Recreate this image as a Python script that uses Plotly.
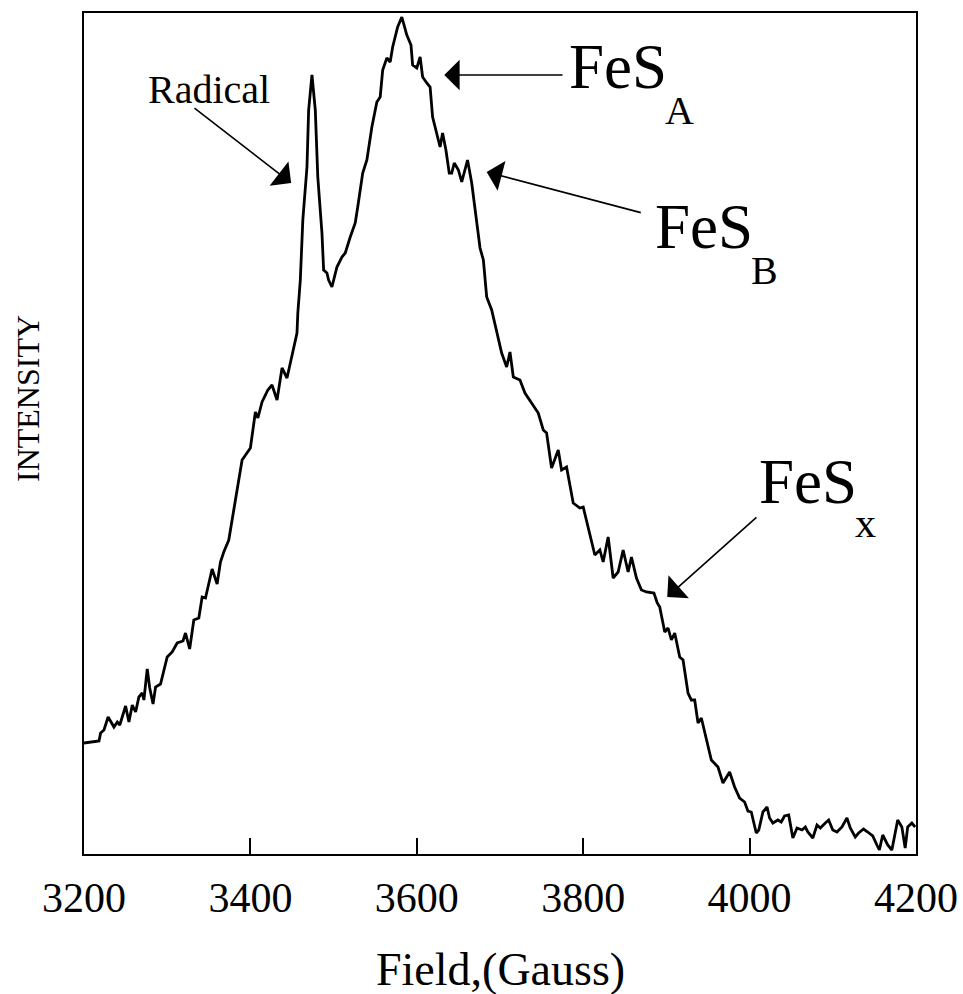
import plotly.graph_objects as go

# EPR spectrum: magnetic field (Gauss) vs. intensity (arbitrary units)
field = [
    3200, 3218, 3220, 3224, 3229, 3236, 3240, 3243, 3250, 3254, 3258, 3262, 3266, 3270,
    3272, 3276, 3279, 3283, 3286, 3292, 3300, 3306, 3312, 3319, 3322, 3327, 3332, 3338,
    3342, 3346, 3354, 3360, 3364, 3368, 3374, 3381, 3390, 3400, 3406, 3409, 3414, 3421,
    3426, 3432, 3438, 3444, 3451, 3456, 3457, 3460, 3463, 3468, 3470, 3474, 3478, 3481,
    3486, 3488, 3492, 3494, 3498, 3502, 3504, 3510, 3514, 3520, 3526, 3529, 3535, 3540,
    3546, 3552, 3556, 3559, 3564, 3568, 3571, 3577, 3582, 3588, 3593, 3595, 3600, 3604,
    3607, 3612, 3616, 3619, 3624, 3628, 3631, 3635, 3639, 3642, 3645, 3650, 3654, 3658,
    3661, 3666, 3670, 3676, 3680, 3684, 3690, 3696, 3702, 3708, 3712, 3716, 3724, 3730,
    3738, 3746, 3752, 3756, 3762, 3770, 3774, 3780, 3788, 3796, 3800, 3806, 3814, 3820,
    3824, 3830, 3836, 3842, 3848, 3854, 3858, 3864, 3870, 3876, 3885, 3889, 3892, 3898,
    3902, 3906, 3910, 3916, 3920, 3926, 3930, 3934, 3938, 3942, 3948, 3954, 3962, 3968,
    3976, 3982, 3988, 3994, 3998, 4002, 4008, 4011, 4016, 4021, 4024, 4028, 4034, 4038,
    4042, 4047, 4052, 4057, 4063, 4067, 4070, 4076, 4081, 4085, 4091, 4095, 4100, 4105,
    4111, 4117, 4121, 4127, 4131, 4137, 4142, 4148, 4153, 4156, 4160, 4166, 4171, 4175,
    4178, 4183, 4187, 4190, 4195, 4199,
]
intensity = [
    111, 113, 121, 124, 137, 127, 132, 129, 148, 132, 149, 142, 157, 161,
    154, 185, 166, 150, 167, 170, 197, 202, 211, 213, 221, 205, 234, 236,
    257, 256, 285, 270, 292, 302, 314, 351, 394, 406, 442, 436, 452, 464,
    469, 454, 486, 476, 501, 521, 541, 574, 634, 687, 744, 779, 744, 677,
    621, 584, 581, 574, 567, 581, 587, 597, 601, 617, 631, 647, 681, 694,
    727, 752, 757, 784, 796, 792, 807, 827, 837, 819, 809, 789, 786, 797,
    777, 771, 767, 737, 721, 707, 721, 704, 681, 681, 691, 684, 672, 684,
    694, 671, 644, 606, 594, 557, 544, 521, 501, 487, 502, 477, 474, 461,
    451, 441, 424, 421, 386, 404, 384, 387, 351, 346, 347, 327, 299, 304,
    292, 317, 276, 282, 304, 282, 297, 276, 264, 262, 261, 251, 247, 222,
    226, 214, 221, 197, 194, 161, 154, 154, 131, 136, 114, 94, 87, 71,
    82, 67, 56, 52, 43, 42, 21, 24, 42, 47, 36, 31, 34, 32,
    38, 39, 16, 26, 24, 27, 22, 16, 29, 26, 31, 34, 24, 22,
    27, 36, 26, 17, 21, 25, 22, 18, 9, 4, 19, 9, 4, 22,
    34, 27, 6, 27, 31, 27,
]

x_ticks = [3200, 3400, 3600, 3800, 4000, 4200]

SERIF = "Liberation Serif, Times New Roman, serif"

fig = go.Figure()
fig.add_trace(go.Scatter(
    x=field, y=intensity, mode="lines",
    line=dict(color="black", width=2.8),
    showlegend=False, hoverinfo="skip",
))

ARROW = dict(showarrow=True, arrowhead=1, arrowsize=3.2, arrowwidth=1.6,
             arrowcolor="black", axref="x", ayref="y", text="")

annotations = [
    # Radical label and arrow
    dict(x=3350, y=765, text="Radical", showarrow=False,
         font=dict(size=40, family=SERIF, color="black")),
    dict(x=3449, y=671, ax=3331, ay=747, **ARROW),
    # FeS_A
    dict(x=3842, y=787, text="FeS", showarrow=False,
         font=dict(size=63, family=SERIF, color="black")),
    dict(x=3916, y=744, text="A", showarrow=False,
         font=dict(size=40, family=SERIF, color="black")),
    dict(x=3633, y=779, ax=3777, ay=779, **ARROW),
    # FeS_B
    dict(x=3945, y=627, text="FeS", showarrow=False,
         font=dict(size=63, family=SERIF, color="black")),
    dict(x=4018, y=584, text="B", showarrow=False,
         font=dict(size=40, family=SERIF, color="black")),
    dict(x=3684, y=682, ax=3871, ay=641, **ARROW),
    # FeS_x
    dict(x=4070, y=372, text="FeS", showarrow=False,
         font=dict(size=63, family=SERIF, color="black")),
    dict(x=4139, y=331, text="x", showarrow=False,
         font=dict(size=42, family=SERIF, color="black")),
    dict(x=3901, y=257, ax=4010, ay=338, **ARROW),
    # axis titles
    dict(x=-0.0673, y=0.541, xref="paper", yref="paper", text="INTENSITY",
         textangle=-90, showarrow=False, xanchor="center", yanchor="middle",
         font=dict(size=32, family=SERIF, color="black")),
    dict(x=0.5, y=-0.137, xref="paper", yref="paper", text="Field,(Gauss)",
         showarrow=False, xanchor="center", yanchor="middle",
         font=dict(size=46, family=SERIF, color="black")),
]

fig.update_layout(
    width=963, height=994,
    margin=dict(l=84, r=47, t=13, b=140, autoexpand=False),
    paper_bgcolor="white", plot_bgcolor="white",
    annotations=annotations,
    xaxis=dict(
        range=[3200, 4200], tickvals=x_ticks, ticktext=[str(t) for t in x_ticks],
        ticks="inside", ticklen=16, tickwidth=1.5, tickcolor="black",
        showline=True, linewidth=2, linecolor="black", mirror=True,
        showgrid=False, zeroline=False, ticklabelstandoff=6, automargin=False,
        tickfont=dict(size=42, family=SERIF, color="black"),
    ),
    yaxis=dict(
        range=[0, 841], showticklabels=False, ticks="",
        showline=True, linewidth=2, linecolor="black", mirror=True,
        showgrid=False, zeroline=False, automargin=False,
    ),
)

fig.write_html("out.html")
